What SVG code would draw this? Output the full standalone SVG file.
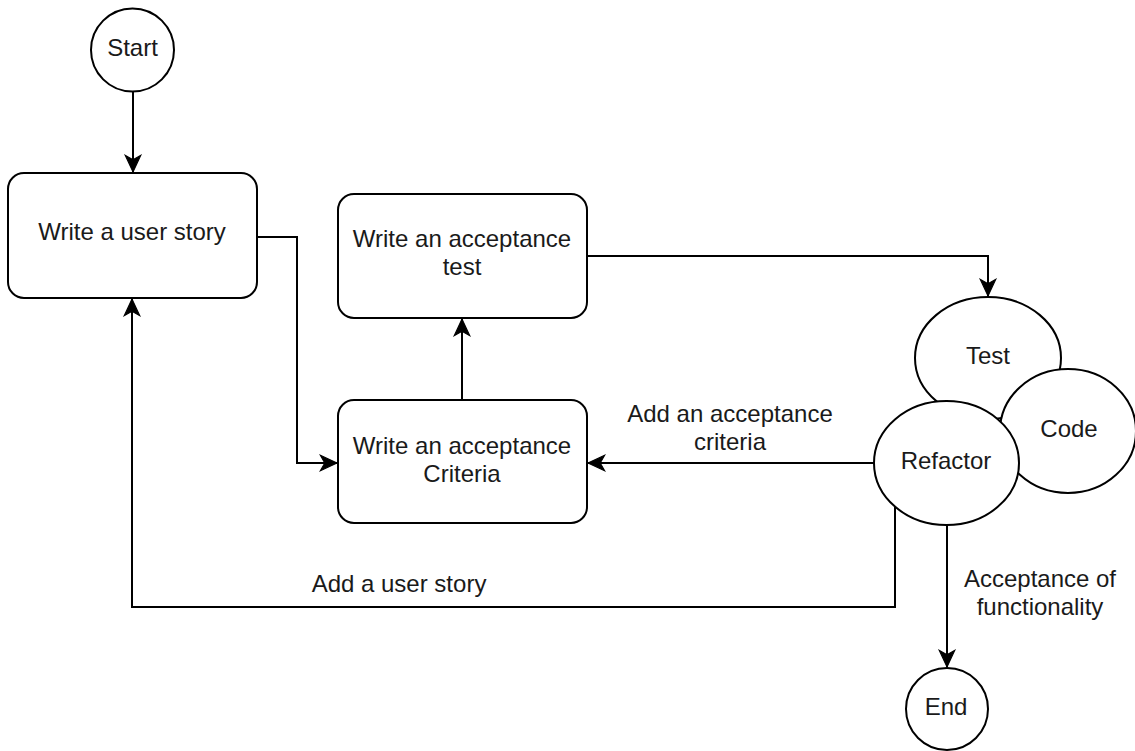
<svg xmlns="http://www.w3.org/2000/svg" width="1135" height="751" viewBox="0 0 1135 751">
<defs>
<style>
.node{fill:#fff;stroke:#000;stroke-width:2}
.edge{fill:none;stroke:#000;stroke-width:2}
text{font-family:"Liberation Sans",Arial,Helvetica,sans-serif;font-size:24px;fill:#1a1a1a;text-anchor:middle}
</style>
<marker id="arr" markerUnits="userSpaceOnUse" markerWidth="20" markerHeight="20" viewBox="-16 -8 18 16" refX="0" refY="0" orient="auto">
<path d="M0,0 L-15,-7 L-11,0 L-15,7 Z" fill="#000" stroke="#000" stroke-width="1"/>
</marker>
</defs>
<rect width="1135" height="751" fill="#fff"/>
<g id="connectors">
<path class="edge" d="M133,92 L133,172" marker-end="url(#arr)"/>
<path class="edge" d="M257,237 L297,237 L297,463 L337,463" marker-end="url(#arr)"/>
<path class="edge" d="M462,400 L462,319" marker-end="url(#arr)"/>
<path class="edge" d="M587,256 L988,256 L988,296" marker-end="url(#arr)"/>
<path class="edge" d="M874,463 L588,463" marker-end="url(#arr)"/>
<path class="edge" d="M895,507 L895,607 L132,607 L132,299" marker-end="url(#arr)"/>
<path class="edge" d="M947,525 L947,667" marker-end="url(#arr)"/>
</g>
<g id="label-add-criteria">
<text x="730" y="422">Add an acceptance</text>
<text x="730" y="450">criteria</text>
</g>
<g id="label-add-story">
<text x="399" y="592">Add a user story</text>
</g>
<g id="label-acceptance">
<text x="1040" y="587">Acceptance of</text>
<text x="1040" y="615">functionality</text>
</g>
<g id="start">
<circle class="node" cx="132.5" cy="50" r="41.5"/>
<text x="132.5" y="56">Start</text>
</g>
<g id="write-user-story">
<rect class="node" x="8" y="173" width="249" height="125" rx="16" ry="16"/>
<text x="132" y="240">Write a user story</text>
</g>
<g id="write-acceptance-test">
<rect class="node" x="338" y="194" width="249" height="124" rx="16" ry="16"/>
<text x="462" y="247">Write an acceptance</text>
<text x="462" y="275">test</text>
</g>
<g id="write-acceptance-criteria">
<rect class="node" x="338" y="400" width="249" height="123" rx="16" ry="16"/>
<text x="462" y="454">Write an acceptance</text>
<text x="462" y="482">Criteria</text>
</g>
<g id="test">
<ellipse class="node" cx="988" cy="358" rx="73" ry="61"/>
<text x="988" y="364">Test</text>
</g>
<g id="code">
<ellipse class="node" cx="1068" cy="431" rx="68" ry="62"/>
<text x="1069" y="437">Code</text>
</g>
<g id="refactor">
<ellipse class="node" cx="946.5" cy="463" rx="72.5" ry="62"/>
<text x="946" y="469">Refactor</text>
</g>
<g id="end">
<circle class="node" cx="947" cy="709" r="41"/>
<text x="946" y="715">End</text>
</g>
</svg>
